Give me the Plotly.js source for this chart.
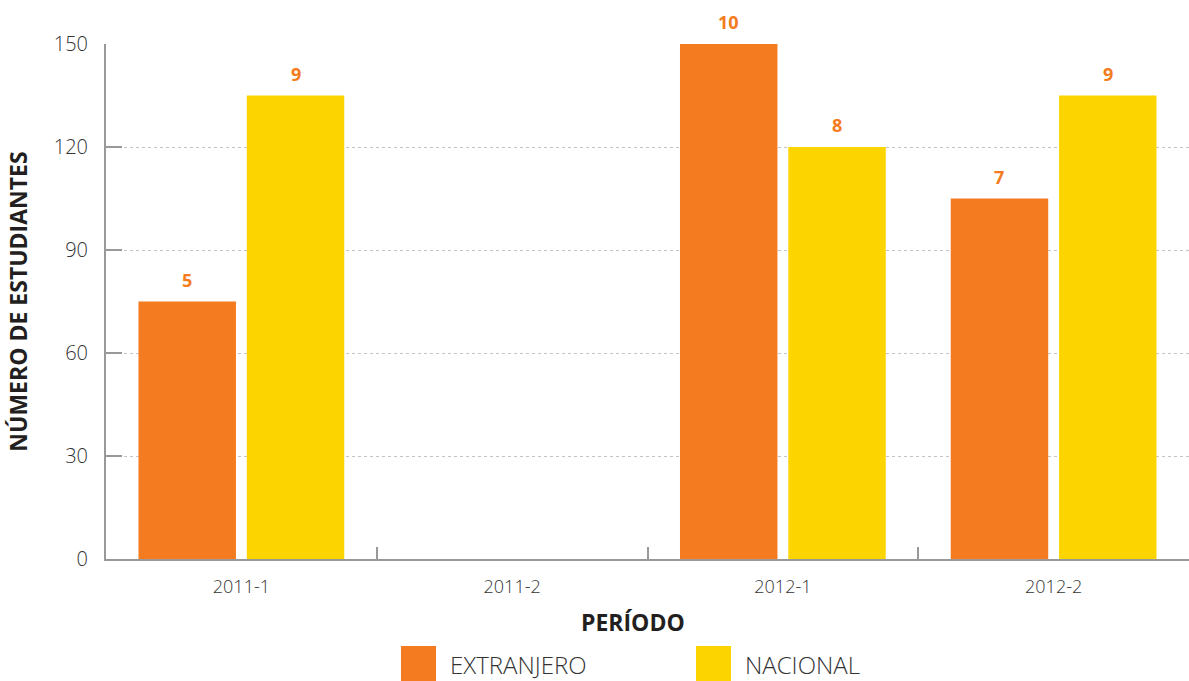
<!DOCTYPE html>
<html>
<head>
<meta charset="utf-8">
<script src="https://cdn.plot.ly/plotly-3.0.1.min.js"></script>
<style>html,body{margin:0;padding:0;background:#fff;}#chart{width:1189px;height:681px;}</style>
</head>
<body>
<div id="chart"></div>
<script>
// Data
const periodos = ["2011-1", "2011-2", "2012-1", "2012-2"];
const seriesNames = ["EXTRANJERO", "NACIONAL"];
const extranjeroValues = [75, null, 150, 105];
const nacionalValues = [135, null, 120, 135];
const extranjeroLabels = ["5", "", "10", "7"];
const nacionalLabels = ["9", "", "8", "9"];
const yTickValues = [0, 30, 60, 90, 120, 150];
const seriesColors = ["#F47B20", "#FCD400"];

const W = 1189, H = 681;
const M = {l: 106, r: 0, t: 44, b: 122};
const plotW = W - M.l - M.r, plotH = H - M.t - M.b;
const bargap = 0.2, bargroupgap = 0.1;
const labelColor = "#F47B20";
const thinFont = "'Open Sans', sans-serif";
const boldFont = "'Open Sans', sans-serif";

const traces = [
  {type: "bar", name: seriesNames[0], x: periodos, y: extranjeroValues,
   marker: {color: seriesColors[0]}, hoverinfo: "skip"},
  {type: "bar", name: seriesNames[1], x: periodos, y: nacionalValues,
   marker: {color: seriesColors[1]}, hoverinfo: "skip"}
];

// Value labels above each bar (data coordinates, shifted to the bar within its group)
const annotations = [];
const slotPx = (plotW / periodos.length) * (1 - bargap) / 2;
[[extranjeroValues, extranjeroLabels, -1], [nacionalValues, nacionalLabels, 1]].forEach(([vals, labs, side]) => {
  periodos.forEach((p, i) => {
    if (vals[i] === null || labs[i] === "") return;
    annotations.push({x: p, y: vals[i], xref: "x", yref: "y", showarrow: false,
      xshift: side * slotPx / 2, yshift: 22, yanchor: "middle", xanchor: "center",
      text: labs[i], font: {family: boldFont, size: 18, color: labelColor, weight: 700}});
  });
});

// Manual legend (large square swatches)
const legendX = [401, 696];
const shapes = [];
const px2x = px => (px - M.l) / plotW;
const px2y = py => (H - M.b - py) / plotH;
seriesNames.forEach((n, i) => {
  shapes.push({type: "rect", xref: "paper", yref: "paper",
    x0: px2x(legendX[i]), x1: px2x(legendX[i] + 35),
    y0: px2y(646), y1: px2y(681),
    fillcolor: seriesColors[i], line: {width: 0}});
  annotations.push({xref: "paper", yref: "paper", x: px2x(legendX[i] + 47),
    y: px2y(664), xanchor: "left", yanchor: "middle", showarrow: false, text: n,
    font: {family: thinFont, size: 24, color: "#333", weight: 300}});
});
// x axis title
annotations.push({xref: "paper", yref: "paper", x: px2x(633), y: px2y(622),
  xanchor: "center", yanchor: "middle", showarrow: false, text: "PERÍODO",
  font: {family: boldFont, size: 23, color: "#231F20", weight: 700}});

const layout = {
  width: W, height: H,
  margin: M,
  paper_bgcolor: "#fff", plot_bgcolor: "#fff",
  barmode: "group", bargap: bargap, bargroupgap: bargroupgap,
  showlegend: false,
  font: {family: thinFont, color: "#333"},
  xaxis: {
    type: "category", range: [-0.5, 3.5],
    tickson: "boundaries", ticks: "inside", ticklen: 12, tickwidth: 2, tickcolor: "#999",
    showline: true, linecolor: "#999", linewidth: 2, showgrid: false,
    tickfont: {family: thinFont, size: 18, color: "#333", weight: 300},
    ticklabelstandoff: 10
  },
  yaxis: {
    range: [0, 150], tickvals: yTickValues, ticktext: yTickValues.map(String),
    ticks: "inside", ticklen: 16, tickwidth: 2, tickcolor: "#999",
    showline: true, linecolor: "#999", linewidth: 2,
    showgrid: true, gridcolor: "#c4c4c4", griddash: "dot", gridwidth: 1,
    zeroline: false,
    tickfont: {family: thinFont, size: 20, color: "#333", weight: 300},
    ticklabelstandoff: 12,
    title: {text: "NÚMERO DE ESTUDIANTES", standoff: 20,
      font: {family: boldFont, size: 23, color: "#231F20", weight: 700}}
  },
  shapes: shapes,
  annotations: annotations
};

Plotly.newPlot("chart", traces, layout, {displayModeBar: false, staticPlot: true});
</script>
</body>
</html>
